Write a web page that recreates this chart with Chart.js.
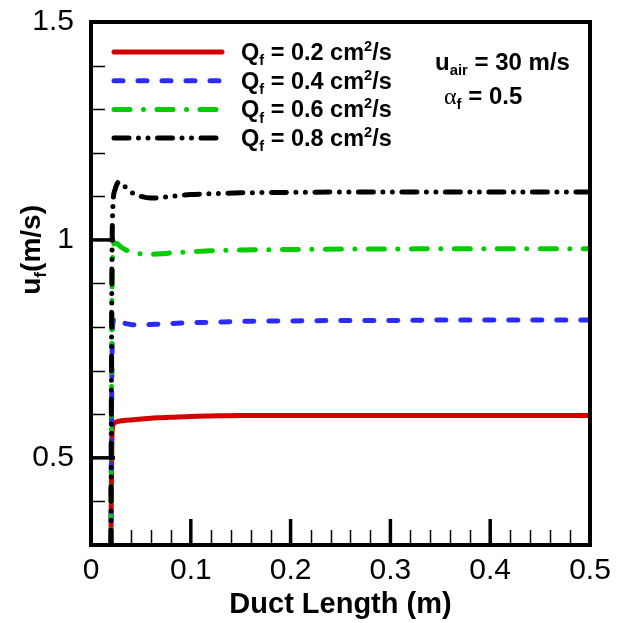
<!DOCTYPE html>
<html>
<head>
<meta charset="utf-8">
<script src="https://cdn.jsdelivr.net/npm/chart.js@4/dist/chart.umd.min.js"></script>
<style>
  html, body { margin: 0; padding: 0; background: #fff; }
  #wrap { width: 621px; height: 623px; }
</style>
</head>
<body>
<div id="wrap"><canvas id="myChart" width="621" height="623"></canvas></div>
<script>
// data
const ductLength = [0.02, 0.0205, 0.021, 0.022, 0.024, 0.026, 0.028, 0.03, 0.035, 0.04, 0.05, 0.06, 0.07, 0.08, 0.1, 0.12, 0.15, 0.2, 0.25, 0.3, 0.35, 0.4, 0.45, 0.5];

const uQ02 = [0.3, 0.45, 0.55, 0.575, 0.581, 0.583, 0.584, 0.585, 0.586, 0.587, 0.589, 0.591, 0.592, 0.593, 0.595, 0.596, 0.597, 0.597, 0.597, 0.597, 0.597, 0.597, 0.597, 0.597];
const uQ04 = [0.3, 0.55, 0.72, 0.81, 0.822, 0.82, 0.816, 0.812, 0.808, 0.806, 0.805, 0.806, 0.807, 0.808, 0.81, 0.811, 0.813, 0.814, 0.815, 0.815, 0.816, 0.816, 0.816, 0.816];
const uQ06 = [0.3, 0.6, 0.85, 0.975, 0.993, 0.992, 0.988, 0.984, 0.977, 0.972, 0.968, 0.967, 0.968, 0.97, 0.973, 0.975, 0.977, 0.978, 0.979, 0.979, 0.98, 0.98, 0.98, 0.98];
const uQ08 = [0.3, 0.7, 0.95, 1.08, 1.115, 1.128, 1.133, 1.131, 1.12, 1.11, 1.1, 1.096, 1.097, 1.1, 1.104, 1.106, 1.108, 1.109, 1.11, 1.11, 1.11, 1.11, 1.11, 1.11];

const seriesLabels = ['0.2', '0.4', '0.6', '0.8'];

const xMajor = [0, 0.1, 0.2, 0.3, 0.4, 0.5];
const xMinor = [0.02, 0.04, 0.06, 0.08, 0.12, 0.14, 0.16, 0.18, 0.22, 0.24, 0.26, 0.28, 0.32, 0.34, 0.36, 0.38, 0.42, 0.44, 0.46, 0.48];
const yMajor = [0.5, 1, 1.5];
const yMinor = [0.4, 0.6, 0.7, 0.8, 0.9, 1.1, 1.2, 1.3, 1.4];

const FONT = "'Liberation Sans', Arial, sans-serif";

const styles = [
    { color: '#d40000', dash: [] },
    { color: '#2b2bff', dash: [9, 15] },
    { color: '#00cc00', dash: [16, 13.5, 0, 13.5] },
    { color: '#000000', dash: [15, 9.5, 0, 9.5, 0, 9.5] },
];

function pts(ys) {
    return ductLength.map((x, i) => ({ x: x, y: ys[i] }));
}

// draw text pieces: normal, subscript, superscript
function drawRich(ctx, x, y, parts, size, weight) {
    ctx.textBaseline = 'alphabetic';
    ctx.textAlign = 'left';
    parts.forEach(p => {
        let s = size, dy = 0, fam = p.family || FONT, w = p.weight || weight;
        if (p.sub) { s = size * 0.62; dy = size * 0.22; }
        if (p.sup) { s = size * 0.62; dy = -size * 0.38; }
        ctx.font = w + ' ' + s + 'px ' + fam;
        ctx.fillText(p.t, x, y + dy);
        x += ctx.measureText(p.t).width;
    });
    return x;
}

const decor = {
    id: 'decor',
    afterDatasetsDraw(chart) {
        const ctx = chart.ctx;
        const a = chart.chartArea;
        const xs = chart.scales.x, ys = chart.scales.y;
        ctx.save();
        ctx.strokeStyle = '#000';
        // inward ticks
        ctx.lineWidth = 1.5;
        xMinor.forEach(v => {
            const px = Math.round(xs.getPixelForValue(v)) + 0.5;
            ctx.beginPath(); ctx.moveTo(px, a.bottom); ctx.lineTo(px, a.bottom - 15); ctx.stroke();
        });
        yMinor.forEach(v => {
            const py = Math.round(ys.getPixelForValue(v)) + 0.5;
            ctx.beginPath(); ctx.moveTo(a.left, py); ctx.lineTo(a.left + 14, py); ctx.stroke();
        });
        ctx.lineWidth = 3.5;
        xMajor.forEach(v => {
            const px = xs.getPixelForValue(v);
            ctx.beginPath(); ctx.moveTo(px, a.bottom); ctx.lineTo(px, a.bottom - 26); ctx.stroke();
        });
        yMajor.forEach(v => {
            const py = ys.getPixelForValue(v);
            ctx.beginPath(); ctx.moveTo(a.left, py); ctx.lineTo(a.left + 24, py); ctx.stroke();
        });
        // frame
        ctx.lineWidth = 4;
        ctx.strokeRect(a.left, a.top, a.right - a.left, a.bottom - a.top);

        // legend
        ctx.fillStyle = '#000';
        seriesLabels.forEach((lab, i) => {
            const y = 52 + i * 28.7;
            ctx.save();
            ctx.strokeStyle = styles[i].color;
            ctx.lineWidth = 5;
            ctx.lineCap = 'round';
            ctx.setLineDash(styles[i].dash);
            ctx.beginPath(); ctx.moveTo(114, y); ctx.lineTo(222, y); ctx.stroke();
            ctx.restore();
            drawRich(ctx, 241, y + 8, [
                { t: 'Q' }, { t: 'f', sub: true }, { t: ' = ' + lab + ' cm' }, { t: '2', sup: true }, { t: '/s' }
            ], 23.5, 'bold');
        });

        // annotation
        drawRich(ctx, 435, 70, [{ t: 'u' }, { t: 'air', sub: true }, { t: ' = 30 m/s' }], 24, 'bold');
        drawRich(ctx, 444, 104, [
            { t: '\u03b1', family: "'Liberation Serif', serif", weight: 'normal' },
            { t: 'f', sub: true }, { t: ' = 0.5' }
        ], 24, 'bold');

        // axis titles
        ctx.font = 'bold 29px ' + FONT;
        ctx.textAlign = 'center';
        ctx.textBaseline = 'alphabetic';
        ctx.fillText('Duct Length (m)', (a.left + a.right) / 2, 613);

        ctx.save();
        ctx.translate(40, 250);
        ctx.rotate(-Math.PI / 2);
        ctx.font = 'bold 28px ' + FONT;
        const w = ctx.measureText('u').width + ctx.measureText('(m/s)').width;
        ctx.font = 'bold 17px ' + FONT;
        const wf = ctx.measureText('f').width;
        drawRich(ctx, -(w + wf) / 2, 0, [{ t: 'u' }, { t: 'f', sub: true }, { t: '(m/s)' }], 28, 'bold');
        ctx.restore();

        ctx.restore();
    }
};

const config = {
    type: 'line',
    data: {
        datasets: [uQ02, uQ04, uQ06, uQ08].map((ys, i) => ({
            data: pts(ys),
            borderColor: styles[i].color,
            borderWidth: 5,
            borderDash: styles[i].dash,
            borderCapStyle: 'round',
            borderJoinStyle: 'round',
            pointRadius: 0,
            fill: false,
            cubicInterpolationMode: 'monotone',
            clip: 0,
            order: 4 - i,
        }))
    },
    options: {
        responsive: false,
        animation: false,
        plugins: {
            legend: { display: false },
            tooltip: { enabled: false },
        },
        layout: {
            padding: { top: 22, right: 31, left: 0, bottom: 0 }
        },
        scales: {
            x: {
                type: 'linear',
                min: 0,
                max: 0.5,
                afterBuildTicks: s => { s.ticks = xMajor.map(v => ({ value: v })); },
                afterFit: s => { s.height = 78; s.paddingRight = 0; s.paddingLeft = 0; },
                grid: { display: false, drawTicks: false },
                border: { display: false },
                ticks: {
                    color: '#000',
                    padding: 8,
                    maxRotation: 0,
                    font: { family: FONT, size: 30 },
                    callback: v => String(v),
                }
            },
            y: {
                type: 'linear',
                min: 0.3,
                max: 1.5,
                afterBuildTicks: s => { s.ticks = yMajor.map(v => ({ value: v })); },
                afterFit: s => { s.width = 91; s.paddingTop = 0; s.paddingBottom = 0; },
                grid: { display: false, drawTicks: false },
                border: { display: false },
                ticks: {
                    color: '#000',
                    padding: 17,
                    font: { family: FONT, size: 30 },
                    callback: v => String(v),
                }
            }
        }
    },
    plugins: [decor]
};

const ctx = document.querySelector('#myChart');
let myChart = new Chart(ctx, config);
</script>
</body>
</html>
